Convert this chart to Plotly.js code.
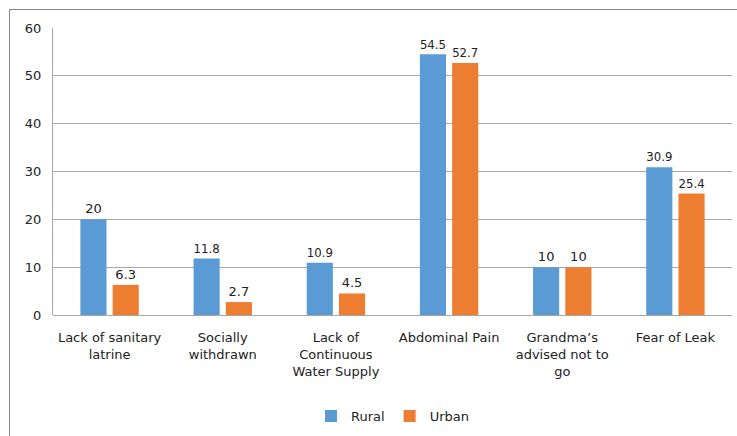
<!DOCTYPE html>
<html>
<head>
<meta charset="utf-8">
<script src="https://cdn.plot.ly/plotly-3.0.1.min.js"></script>
<style>
html,body{margin:0;padding:0;background:#fff;}
#frame{position:absolute;left:9px;top:9px;width:740px;height:440px;border-left:1px solid #888;border-top:1px solid #888;box-sizing:border-box;}
#chart{position:absolute;left:0;top:0;width:737px;height:436px;}
</style>
</head>
<body>
<div id="frame"></div>
<div id="chart"></div>
<script>
const categories = ["Lack of sanitary<br>latrine", "Socially<br>withdrawn", "Lack of<br>Continuous<br>Water Supply", "Abdominal Pain", "Grandma’s<br>advised not to<br>go", "Fear of Leak"];
const rural = [20, 11.8, 10.9, 54.5, 10, 30.9];
const urban = [6.3, 2.7, 4.5, 52.7, 10, 25.4];
const yTicks = [0, 10, 20, 30, 40, 50, 60];

const fam = "DejaVu Sans, Verdana, sans-serif";
const txt = {family: fam, size: 13, color: "#222"};
const traces = [
  {type: "bar", name: "Rural", x: categories, y: rural, marker: {color: "#5B9BD5"},
   text: rural.map(String), textposition: "outside", cliponaxis: false, textfont: txt},
  {type: "bar", name: "Urban", x: categories, y: urban, marker: {color: "#ED7D31"},
   text: urban.map(String), textposition: "outside", cliponaxis: false, textfont: txt}
];
const layout = {
  width: 737, height: 436,
  margin: {l: 53, r: 5, t: 28, b: 121},
  paper_bgcolor: "rgba(0,0,0,0)", plot_bgcolor: "rgba(0,0,0,0)",
  font: txt,
  barmode: "group", bargap: 0.43, bargroupgap: 0.19,
  showlegend: true,
  legend: {orientation: "h", x: 0.5, xanchor: "center", y: -0.352, yanchor: "middle",
           font: txt, itemwidth: 30, traceorder: "normal", tracegroupgap: 0},
  xaxis: {type: "category", showgrid: false, zeroline: false, showline: false, automargin: false,
          ticks: "", tickfont: txt, tickangle: 0, ticklabelstandoff: 13},
  yaxis: {range: [0, 60], tickvals: yTicks, ticktext: yTicks.map(String), showgrid: true,
          gridcolor: "#a6a6a6", gridwidth: 1, zeroline: true, zerolinecolor: "#a6a6a6",
          showline: true, linecolor: "#a6a6a6", linewidth: 1, ticks: "", ticklen: 0,
          tickfont: txt, automargin: false, ticklabelstandoff: 8}
};
Plotly.newPlot("chart", traces, layout, {displayModeBar: false, staticPlot: true});
</script>
</body>
</html>
